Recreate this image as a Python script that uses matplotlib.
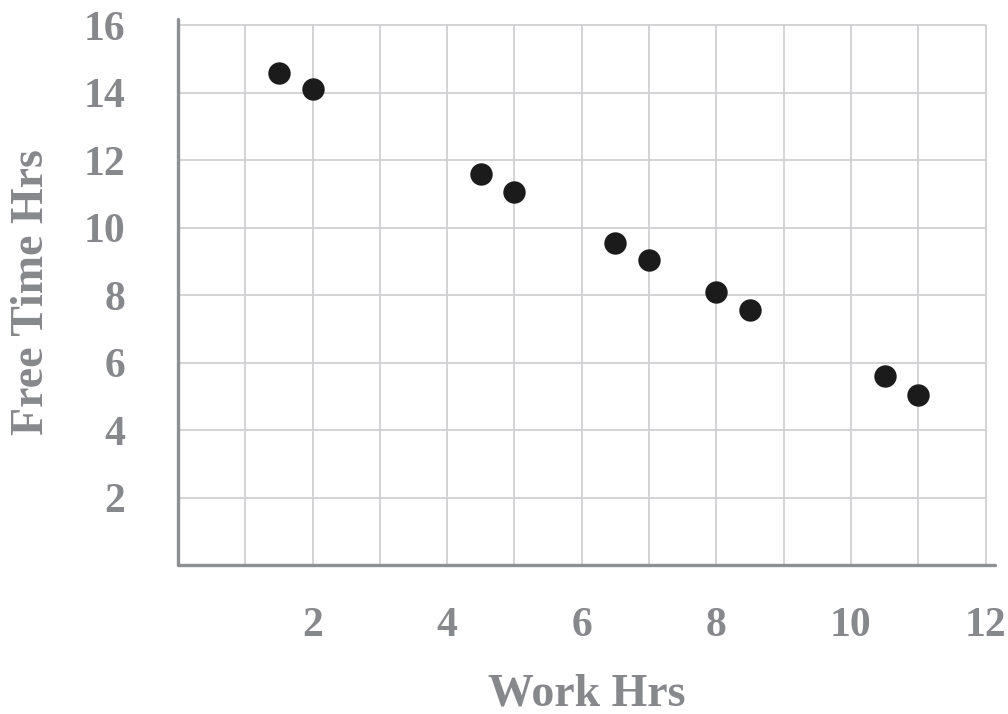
import matplotlib
matplotlib.use("Agg")
import matplotlib.pyplot as plt

work_hrs = [1.5, 2, 4.5, 5, 6.5, 7, 8, 8.5, 10.5, 11]
free_hrs = [14.6, 14.1, 11.6, 11.05, 9.55, 9.05, 8.1, 7.55, 5.6, 5.05]
x_ticks = [2, 4, 6, 8, 10, 12]
y_ticks = [2, 4, 6, 8, 10, 12, 14, 16]
x_grid = list(range(1, 13))
y_grid = y_ticks

text_color = "#87888b"
font = "Liberation Serif"

fig = plt.figure(figsize=(10.08, 7.14), dpi=100)
ax = fig.add_axes([178/1008, 149/714, 817/1008, 546/714])
ax.set_xlim(0, 12.14)
ax.set_ylim(0, 16.19)

ax.vlines(x_grid, 0, 16, color="#d0d0d3", lw=1.3, zorder=1)
ax.hlines(y_grid, 0, 12, color="#d0d0d3", lw=1.3, zorder=1)

ax.scatter(work_hrs, free_hrs, s=260, color="#1b1b1b", zorder=3, linewidths=0)

for s in ["top", "right"]:
    ax.spines[s].set_visible(False)
for s in ["left", "bottom"]:
    ax.spines[s].set_color("#8e8f92")
    ax.spines[s].set_linewidth(2.4)
    ax.spines[s].set_capstyle("round")

ax.set_xticks(x_ticks)
ax.set_yticks(y_ticks)
ax.tick_params(length=0, colors=text_color)
ax.tick_params(axis="x", pad=30)
ax.tick_params(axis="y", pad=38)
for lab in ax.get_xticklabels() + ax.get_yticklabels():
    lab.set_fontfamily(font)
    lab.set_fontweight("bold")
    lab.set_fontsize(30)
    lab.set_color(text_color)

ax.set_xlabel("Work Hrs", fontfamily=font, fontweight="bold", fontsize=33,
              color=text_color, labelpad=21)
ax.set_ylabel("Free Time Hrs", fontfamily=font, fontweight="bold", fontsize=33,
              color=text_color, labelpad=22)

fig.savefig("out.png", dpi=100)
